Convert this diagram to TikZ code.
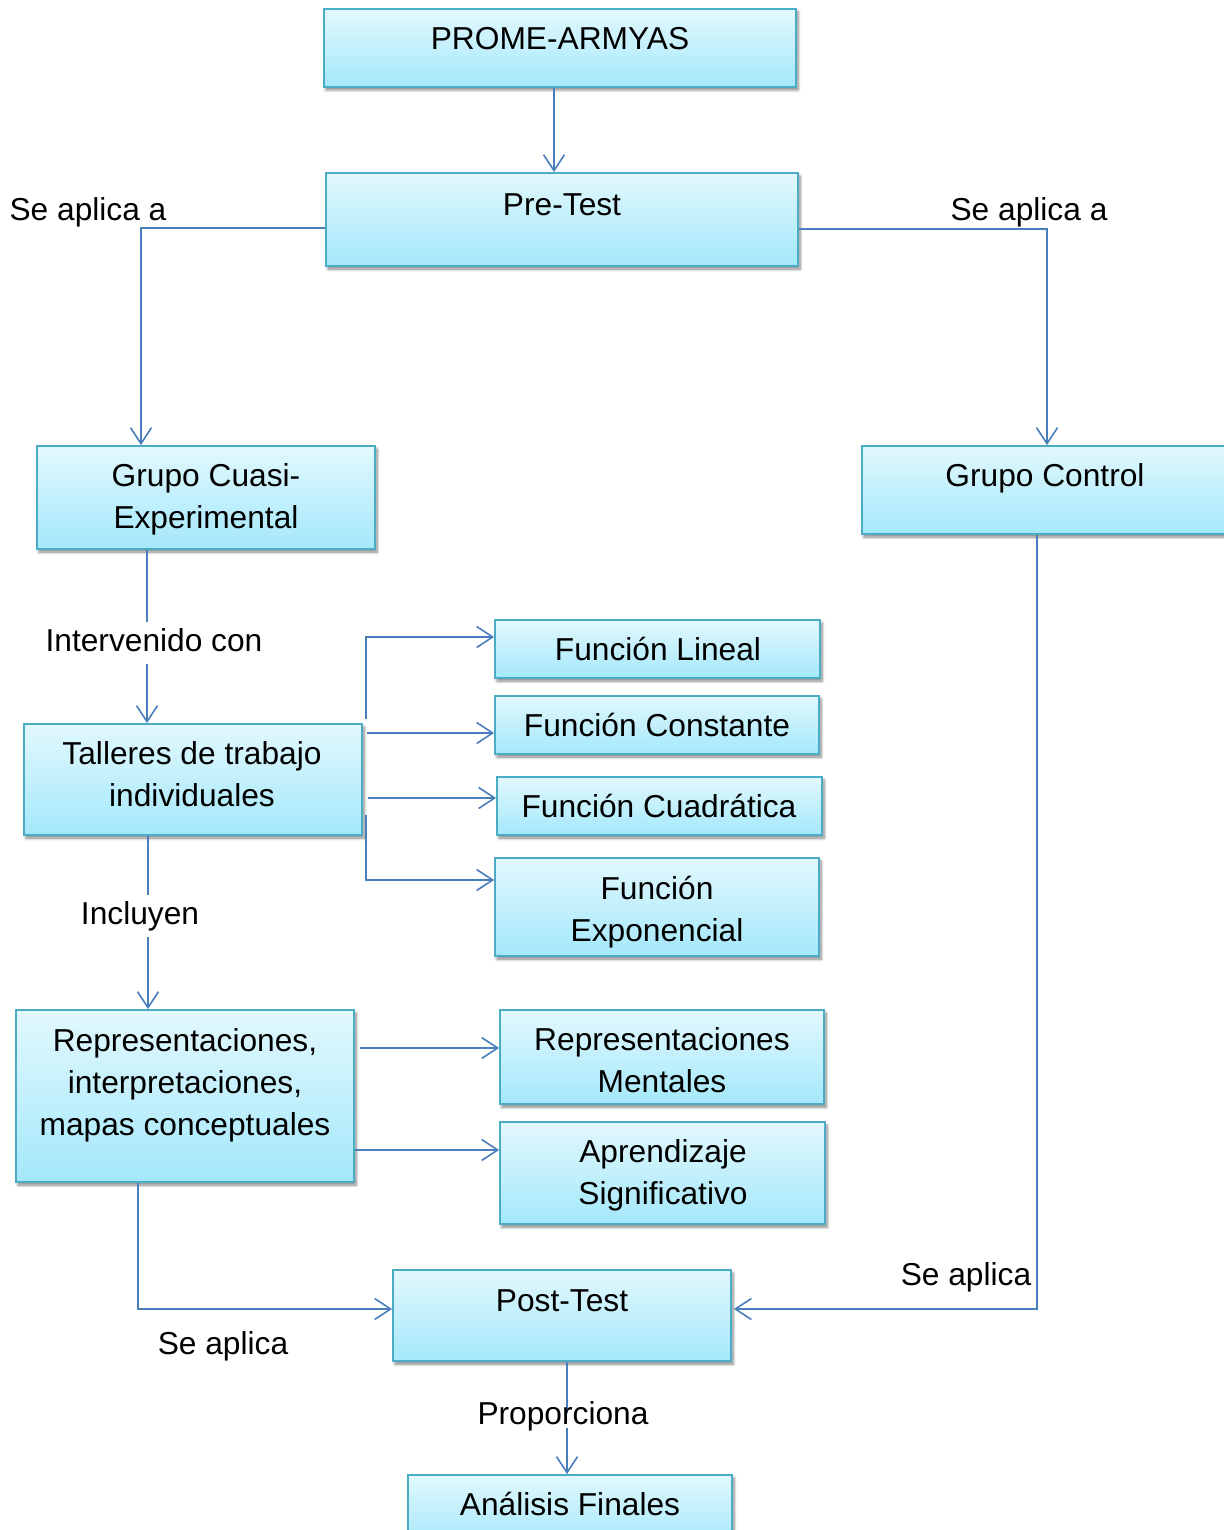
\documentclass[tikz,border=0pt]{standalone}
\usepackage{fontspec}
\setmainfont{Liberation Sans}
\usetikzlibrary{arrows.meta,shadows.blur,calc}
\definecolor{bord}{RGB}{75,172,198}
\definecolor{topc}{RGB}{226,248,253}
\definecolor{botc}{RGB}{164,232,251}
\definecolor{linec}{RGB}{74,126,187}
\newcommand\bigf{\fontsize{31.7}{42}\selectfont}
\tikzset{
  box/.style={draw=bord, line width=1.8pt, top color=topc, bottom color=botc,
    inner sep=0pt, blur shadow={shadow xshift=2pt, shadow yshift=-3pt, shadow blur radius=3pt, shadow blur steps=6, shadow opacity=50}},
  txt/.style={anchor=north, inner sep=0pt, align=center, font=\bigf},
  lbl/.style={anchor=north, inner sep=0pt, align=center, font=\bigf},
  conn/.style={draw=linec, line width=1.6pt},
  arr/.style={conn, -{Straight Barb[length=16pt,width=21pt,line width=1.6pt]}},
}
\newcommand\boxat[5]{\node[box, minimum width=#4pt-#2pt, minimum height=#5pt-#3pt] (#1) at ({(#2+#4)/2},{(#3+#5)/2}) {};}
\begin{document}
\begin{tikzpicture}[x=1pt,y=-1pt]
\useasboundingbox (0,0) rectangle (1223,1530);
% boxes
\boxat{prome}{324}{9}{796}{87}
\boxat{pre}{326}{173}{798}{266}
\boxat{cuasi}{37}{446}{375}{549}
\boxat{control}{862}{446}{1228}{534}
\boxat{talleres}{24}{724}{362}{835}
\boxat{flin}{495}{620}{820}{678}
\boxat{fcon}{495}{696}{819}{754}
\boxat{fcua}{497}{777}{822}{835}
\boxat{fexp}{495}{858}{819}{956}
\boxat{repr}{16}{1010}{354}{1182}
\boxat{rmen}{500}{1010}{824}{1104}
\boxat{apr}{500}{1122}{825}{1224}
\boxat{post}{393}{1270}{731}{1361}
\boxat{ana}{408}{1475}{732}{1545}
% box texts
\node[txt] (tprome) at (560,19.6) {\strut PROME-ARMYAS};
\node[txt] (tpre) at (562,185.6) {\strut Pre-Test};
\node[txt] (tcuasi) at (206,456.6) {\strut Grupo Cuasi-\\Experimental};
\node[txt] (tcontrol) at (1045,456.6) {\strut Grupo Control};
\node[txt] (ttalleres) at (192,734.6) {\strut Talleres de trabajo\\individuales};
\node[txt] (tflin) at (658,630.6) {\strut Función Lineal};
\node[txt] (tfcon) at (657,706.6) {\strut Función Constante};
\node[txt] (tfcua) at (659,787.6) {\strut Función Cuadrática};
\node[txt] (tfexp) at (657,869.6) {\strut Función\\Exponencial};
\node[txt] (trepr) at (185,1021.6) {\strut Representaciones,\\interpretaciones,\\mapas conceptuales};
\node[txt] (trmen) at (662,1020.6) {\strut Representaciones\\Mentales};
\node[txt] (tapr) at (663,1132.6) {\strut Aprendizaje\\Significativo};
\node[txt] (tpost) at (562,1281.6) {\strut Post-Test};
\node[txt] (tana) at (570,1485.6) {\strut Análisis Finales};
% connectors
\draw[arr] ([xshift=-6pt]prome.south) -- ([xshift=-6pt]prome.south |- pre.north);
\draw[arr] ([yshift=-8.5pt]pre.west) -| ([xshift=-65pt]cuasi.north);
\draw[arr] ([yshift=-9.5pt]pre.east) -| ([xshift=2pt]control.north);
\draw[arr] ([xshift=-59pt]cuasi.south) -- ([xshift=-59pt]cuasi.south |- talleres.north);
\draw[arr] ($(talleres.north east)+(3,-4)$) |- ([yshift=12pt]flin.west);
\draw[arr] ($(talleres.east |- fcon.west)+(4,8)$) -- ($(fcon.west)+(0,8)$);
\draw[arr] ($(talleres.east |- fcua.west)+(5,-8)$) -- ($(fcua.west)+(0,-8)$);
\draw[arr] ($(talleres.east)+(3,35.5)$) |- ([yshift=27pt]fexp.west);
\draw[arr] ([xshift=-45pt]talleres.south) -- ([xshift=-45pt]talleres.south |- repr.north);
\draw[arr] ($(repr.east |- rmen.west)+(5,-9)$) -- ([yshift=9pt]rmen.west);
\draw[arr] ([yshift=23pt]apr.west -| repr.east) -- ([yshift=23pt]apr.west);
\draw[arr] ([xshift=-47pt]repr.south) |- ([yshift=6.5pt]post.west);
\draw[arr] ([xshift=-8pt]control.south) |- ($(post.east)+(2,-6.5)$);
\coordinate (pp1) at (567,1413);
\coordinate (pp2) at (567,1428);
\draw[conn] (post.south -| pp1) -- (pp1);
\draw[arr] (pp2) -- (ana.north -| pp2);
% labels
\node[lbl] (l1) at (88,190.6) {\strut Se aplica a};
\node[lbl] (l2) at (1029,190.6) {\strut Se aplica a};
\node[lbl, fill=white] (l3) at (154,621.6) {\strut Intervenido con};
\node[lbl, fill=white] (l4) at (140,894.6) {\strut Incluyen};
\node[lbl] (l5) at (223,1324.6) {\strut Se aplica};
\node[lbl] (l6) at (966,1255.6) {\strut Se aplica};
\node[lbl] (l7) at (563,1394.6) {\strut Proporciona};
\end{tikzpicture}
\end{document}
